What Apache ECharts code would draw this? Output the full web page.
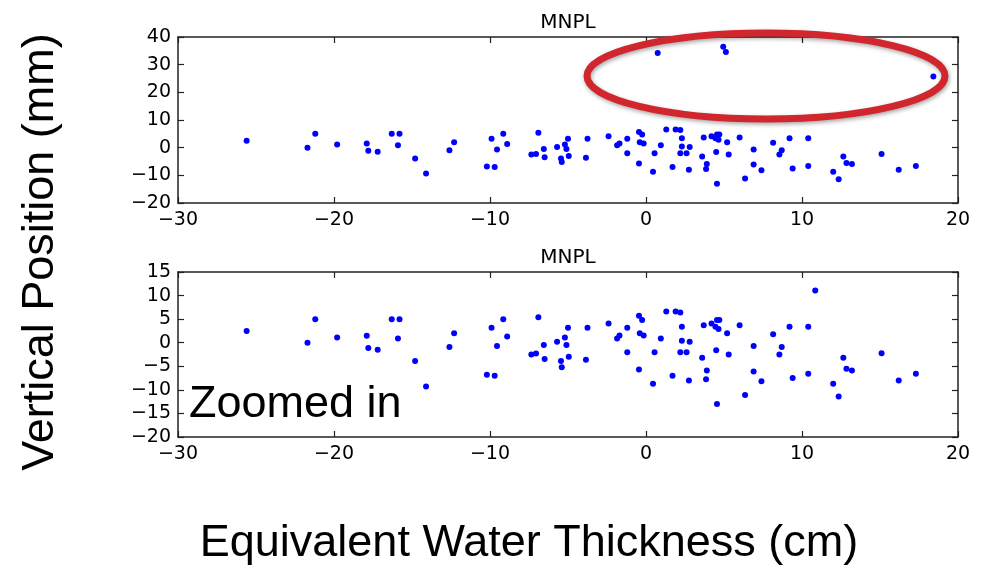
<!DOCTYPE html>
<html>
<head>
<meta charset="utf-8">
<title>MNPL</title>
<script src="https://cdn.jsdelivr.net/npm/echarts@6/dist/echarts.min.js"></script>
<style>
  html, body { margin: 0; padding: 0; background: #fff; }
  #main { width: 988px; height: 569px; }
</style>
</head>
<body>
<div id="main"></div>
<script>
// equivalent water thickness (cm)
var ewt = [
  -25.6, -21.7, -21.2, -19.8, -17.9, -17.8, -17.2, -16.3, -15.8, -15.9,
  -14.8, -14.1, -12.6, -12.3, -10.2, -9.9, -9.7, -9.55, -9.15, -8.9,
  -7.35, -7.05, -6.9, -6.55, -6.5, -5.7, -5.45, -5.4, -5.2, -5.1,
  -5.0, -4.95, -3.85, -3.75, -2.4, -1.85, -1.7, -1.2, -1.2, -0.45,
  -0.25, -0.4, -0.15, -0.45, 0.45, 0.55, 0.95, 1.3, 1.7, 1.9,
  2.2, 2.3, 2.3, 2.2, 2.6, 2.8, 2.75, 3.6, 3.7, 3.9,
  3.85, 4.2, 4.5, 4.45, 4.55, 4.7, 4.65, 4.55, 5.2, 5.3,
  6.0, 6.35, 6.9, 6.9, 7.4, 8.15, 8.7, 8.55, 9.2, 9.4,
  10.4, 10.4, 10.85, 12.0, 12.35, 12.65, 12.85, 13.2, 15.1, 16.2,
  17.3, 0.75, 4.95, 5.12, 18.42
];
// vertical position (mm)
var vpos = [
  2.5, 0.0, 5.0, 1.1, 1.5, -1.1, -1.5, 5.0, 5.0, 0.9,
  -3.9, -9.3, -0.9, 2.0, -6.8, 3.2, -7.0, -0.7, 5.0, 1.3,
  -2.5, -2.3, 5.4, -0.5, -3.45, 0.2, -3.9, -5.2, 1.1, -0.5,
  3.2, -3.0, -3.6, 3.2, 4.1, 0.9, 1.55, 3.2, -2.0, 5.7,
  4.8, 2.0, 1.55, -5.7, -8.7, -2.0, 0.9, 6.6, -7.0, 6.6,
  6.4, 3.4, 0.4, -2.0, -2.0, 0.2, -8.0, -3.2, 3.7, -5.9,
  -7.75, 4.1, -1.6, 3.4, 4.8, 4.8, 2.9, -13.0, 2.0, -2.5,
  3.7, -11.1, -0.7, -6.1, -8.2, 1.8, -0.9, -2.5, 3.4, -7.5,
  3.4, -6.6, 11.1, -8.7, -11.4, -3.2, -5.5, -5.9, -2.25, -8.0,
  -6.6, 34.2, 36.5, 34.6, 25.7
];
var xTicks = [-30, 20, 10];        // min, max, step
var yTicksFull = [-20, 40, 10];
var yTicksZoom = [-20, 15, 5];

var points = ewt.map(function (x, i) { return [x, vpos[i]]; });

var tickFont = { fontFamily: 'DejaVu Sans', fontSize: 19, color: '#000' };
function minus(v) { return String(v).replace('-', '\u2212'); }

function xAxisFor(grid, pos, labels) {
  return {
    type: 'value', gridIndex: grid, position: pos,
    min: xTicks[0], max: xTicks[1], interval: xTicks[2],
    splitLine: { show: false },
    axisLine: { show: true, onZero: false, lineStyle: { color: '#222', width: 1.5 } },
    axisTick: { show: true, inside: true, length: 6, lineStyle: { color: '#222', width: 1.2 } },
    axisLabel: Object.assign({ show: labels, margin: 8, formatter: minus }, tickFont)
  };
}
function yAxisFor(grid, pos, labels, t) {
  return {
    type: 'value', gridIndex: grid, position: pos,
    min: t[0], max: t[1], interval: t[2],
    splitLine: { show: false },
    axisLine: { show: true, onZero: false, lineStyle: { color: '#222', width: 1.5 } },
    axisTick: { show: true, inside: true, length: 6, lineStyle: { color: '#222', width: 1.2 } },
    axisLabel: Object.assign({ show: labels, margin: 7, formatter: minus }, tickFont)
  };
}

var chart = echarts.init(document.getElementById('main'));
var option = {
  animation: false,
  backgroundColor: '#fff',
  grid: [
    { left: 178, right: 30, top: 37, height: 166 },
    { left: 178, right: 30, top: 272, height: 165 }
  ],
  xAxis: [
    xAxisFor(0, 'bottom', true),
    xAxisFor(1, 'bottom', true),
    xAxisFor(0, 'top', false),
    xAxisFor(1, 'top', false)
  ],
  yAxis: [
    yAxisFor(0, 'left', true, yTicksFull),
    yAxisFor(1, 'left', true, yTicksZoom),
    yAxisFor(0, 'right', false, yTicksFull),
    yAxisFor(1, 'right', false, yTicksZoom)
  ],
  series: [
    {
      type: 'scatter', xAxisIndex: 0, yAxisIndex: 0, clip: true,
      symbolSize: 6, itemStyle: { color: '#0000ff', opacity: 1 }, data: points
    },
    {
      type: 'scatter', xAxisIndex: 1, yAxisIndex: 1, clip: true,
      symbolSize: 6, itemStyle: { color: '#0000ff', opacity: 1 }, data: points
    }
  ],
  graphic: [
    { type: 'text', x: 568, y: 23, z: 50,
      style: { text: 'MNPL', fontFamily: 'DejaVu Sans', fontSize: 20, fill: '#000', align: 'center', verticalAlign: 'middle' } },
    { type: 'text', x: 568, y: 258, z: 50,
      style: { text: 'MNPL', fontFamily: 'DejaVu Sans', fontSize: 20, fill: '#000', align: 'center', verticalAlign: 'middle' } },
    { type: 'ellipse', z: 100,
      shape: { cx: 766, cy: 76, rx: 179, ry: 43 },
      style: { fill: 'none', stroke: '#d1262d', lineWidth: 7,
               shadowBlur: 4, shadowColor: 'rgba(0,0,0,0.35)', shadowOffsetX: 1, shadowOffsetY: 2 } },
    { type: 'text', x: 189, y: 405, z: 50,
      style: { text: 'Zoomed in', fontFamily: 'Liberation Sans', fontSize: 45, fill: '#000', align: 'left', verticalAlign: 'middle' } },
    { type: 'text', x: 41, y: 252, rotation: Math.PI / 2, z: 50,
      style: { text: 'Vertical Position (mm)', fontFamily: 'Liberation Sans', fontSize: 45, fill: '#000', align: 'center', verticalAlign: 'middle' } },
    { type: 'text', x: 529, y: 544, z: 50,
      style: { text: 'Equivalent Water Thickness (cm)', fontFamily: 'Liberation Sans', fontSize: 45, fill: '#000', align: 'center', verticalAlign: 'middle' } }
  ]
};
chart.setOption(option);
</script>
</body>
</html>
